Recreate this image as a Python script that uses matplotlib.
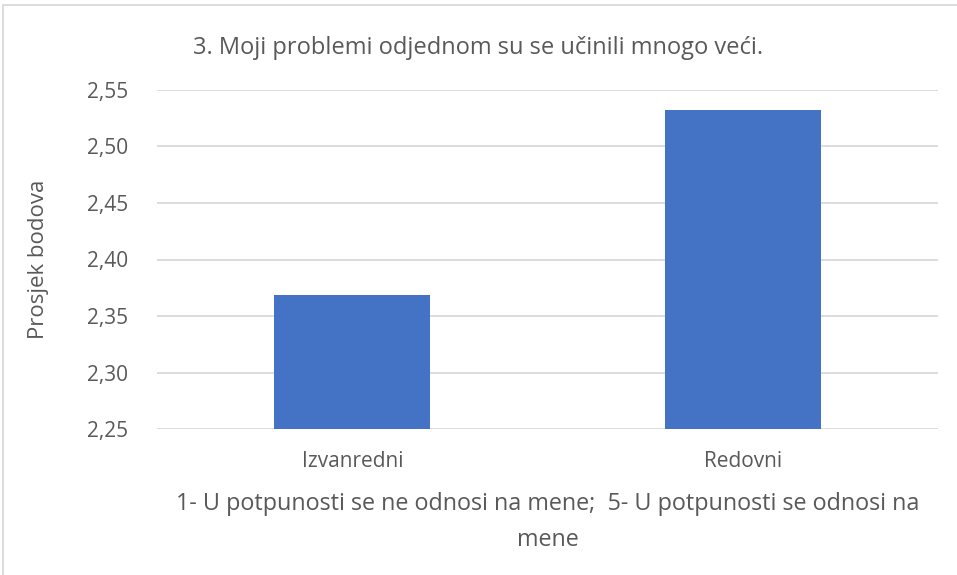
import matplotlib.pyplot as plt
from matplotlib.patches import Rectangle
from matplotlib.ticker import FuncFormatter

categories = ['Izvanredni', 'Redovni']
values = [2.369, 2.532]
title = '3. Moji problemi odjednom su se učinili mnogo veći.'
xlabel = '1- U potpunosti se ne odnosi na mene;  5- U potpunosti se odnosi na\nmene'
ylabel = 'Prosjek bodova'

plt.rcParams['font.family'] = ['Open Sans', 'DejaVu Sans']
text_col = '#595959'
grid_col = '#D9D9D9'

fig = plt.figure(figsize=(9.57, 5.75), dpi=100)
ax = fig.add_axes([157 / 957, 1 - 429 / 575, (938 - 157) / 957, (429 - 90) / 575])

x = range(len(categories))
ax.bar(x, values, width=0.4, color='#4472C4', zorder=3)
ax.set_xlim(-0.5, 1.5)
ax.set_ylim(2.25, 2.55)
ax.set_yticks([2.25, 2.30, 2.35, 2.40, 2.45, 2.50, 2.55])
ax.yaxis.set_major_formatter(FuncFormatter(lambda v, p: f'{v:.2f}'.replace('.', ',')))
ax.set_xticks(list(x))
ax.set_xticklabels(categories)
ax.grid(axis='y', color=grid_col, linewidth=1.3, zorder=0)
for s in ax.spines.values():
    s.set_visible(False)
ax.tick_params(axis='both', length=0, labelsize=15, colors=text_col)
ax.tick_params(axis='y', pad=21)
ax.tick_params(axis='x', pad=16)

ax.set_ylabel(ylabel, fontsize=16, color=text_col, labelpad=27)
ax.set_xlabel(xlabel, fontsize=16.8, color=text_col, labelpad=14, linespacing=1.7)
fig.text(478 / 957, 1 - 48 / 575, title, fontsize=17, color=text_col,
         ha='center', va='center')

# chart area border
fig.patches.append(Rectangle((3 / 957, -0.1), 1.1, 1 - 5 / 575 + 0.1,
                             transform=fig.transFigure, fill=False,
                             edgecolor=grid_col, linewidth=1.3))

fig.savefig('out.png', dpi=100)
